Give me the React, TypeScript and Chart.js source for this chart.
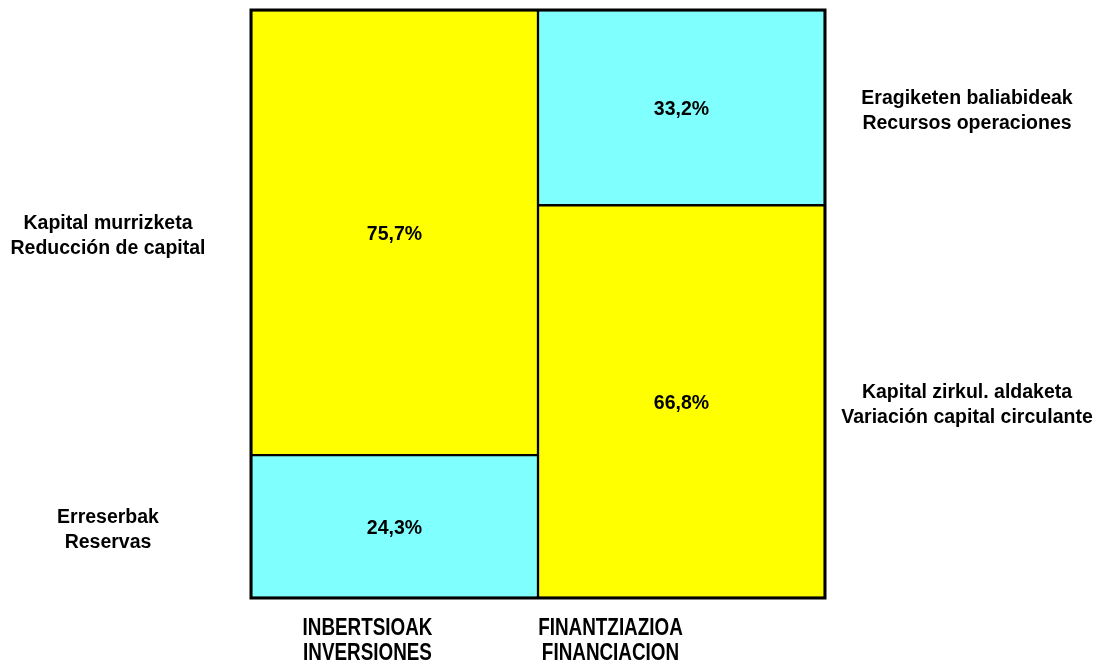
import React, { useEffect, useRef } from "react";
import { Chart, registerables } from "chart.js";

Chart.register(...registerables);

const categories = [
  ["INBERTSIOAK", "INVERSIONES"],
  ["FINANTZIAZIOA", "FINANCIACION"],
];
const bottomValues = [24.3, 66.8];
const topValues = [75.7, 33.2];
const bottomColors = ["#80FFFF", "#FFFF00"];
const topColors = ["#FFFF00", "#80FFFF"];
const bottomSideLabels = [
  ["Erreserbak", "Reservas"],
  ["Kapital zirkul. aldaketa", "Variación capital circulante"],
];
const topSideLabels = [
  ["Kapital murrizketa", "Reducción de capital"],
  ["Eragiketen baliabideak", "Recursos operaciones"],
];

const fmt = (v: number) => v.toFixed(1).replace(".", ",") + "%";

const labelsPlugin = {
  id: "customLabels",
  afterDatasetsDraw(chart: any) {
    const ctx = chart.ctx;
    const area = chart.chartArea;
    ctx.save();
    ctx.strokeStyle = "#000";
    ctx.lineWidth = 3;
    ctx.strokeRect(area.left, area.top, area.right - area.left, area.bottom - area.top);

    ctx.fillStyle = "#000";
    ctx.textAlign = "center";
    ctx.textBaseline = "middle";
    ctx.font = "bold 19.5px 'Liberation Sans', Arial, sans-serif";
    const sideSets = [bottomSideLabels, topSideLabels];
    const valueSets = [bottomValues, topValues];
    chart.data.datasets.forEach((_: any, di: number) => {
      const meta = chart.getDatasetMeta(di);
      meta.data.forEach((bar: any, i: number) => {
        const cy = (bar.y + bar.base) / 2 + 2;
        ctx.fillText(fmt(valueSets[di][i]), bar.x, cy);
        const lines = sideSets[di][i];
        const sx = i === 0 ? area.left - 143 : area.right + 142;
        lines.forEach((t: string, li: number) => {
          ctx.fillText(t, sx, cy - 11 + li * 25);
        });
      });
    });

    const xs = chart.scales.x;
    const offsets = [-27, -71];
    ctx.font = "bold 23px 'Liberation Sans', Arial, sans-serif";
    categories.forEach((lines, i) => {
      const cx = xs.getPixelForValue(i) + offsets[i];
      lines.forEach((t, li) => {
        ctx.save();
        ctx.translate(cx, area.bottom + 31 + li * 25);
        ctx.scale(0.82, 1);
        ctx.fillText(t, 0, 0);
        ctx.restore();
      });
    });
    ctx.restore();
  },
};

export default function App() {
  const ref = useRef<HTMLCanvasElement>(null);
  useEffect(() => {
    document.body.style.margin = "0";
    const chart = new Chart(ref.current!, {
      type: "bar",
      data: {
        labels: categories.map((c) => c.join(" ")),
        datasets: [
          {
            data: bottomValues,
            backgroundColor: bottomColors,
            borderColor: "#000",
            borderWidth: 1.5,
            borderSkipped: false,
            barPercentage: 1,
            categoryPercentage: 1,
          },
          {
            data: topValues,
            backgroundColor: topColors,
            borderColor: "#000",
            borderWidth: 1.5,
            borderSkipped: false,
            barPercentage: 1,
            categoryPercentage: 1,
          },
        ],
      },
      options: {
        responsive: false,
        animation: false,
        layout: { padding: { left: 251, right: 274, top: 10, bottom: 69 } },
        plugins: { legend: { display: false }, tooltip: { enabled: false } },
        scales: {
          x: { stacked: true, display: false },
          y: { stacked: true, display: false, min: 0, max: 100 },
        },
      },
      plugins: [labelsPlugin],
    });
    return () => chart.destroy();
  }, []);
  return (
    <div style={{ width: 1099, height: 667 }}>
      <canvas ref={ref} width={1099} height={667} />
    </div>
  );
}
